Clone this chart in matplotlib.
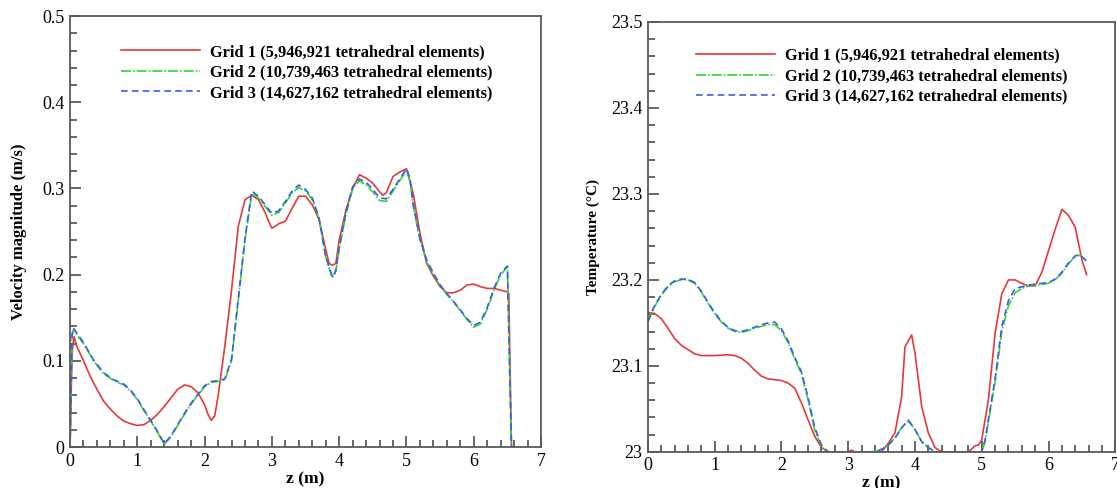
import matplotlib.pyplot as plt
from matplotlib.ticker import MultipleLocator

plt.rcParams['font.family'] = ['Liberation Serif', 'DejaVu Serif']

# ---------------- Velocity magnitude data ----------------
v_z1 = [0.0, 0.03, 0.06, 0.1, 0.2, 0.3, 0.4, 0.5, 0.6, 0.7, 0.8, 0.9, 1.0, 1.1, 1.2, 1.3, 1.4,
        1.5, 1.6, 1.7, 1.8, 1.9, 2.0, 2.05, 2.1, 2.15, 2.2, 2.3, 2.4, 2.5, 2.6, 2.7, 2.8,
        2.9, 2.95, 3.0, 3.05, 3.1, 3.2, 3.3, 3.4, 3.5, 3.6, 3.7, 3.8, 3.85, 3.9, 3.95,
        4.0, 4.1, 4.2, 4.3, 4.4, 4.5, 4.6, 4.65, 4.7, 4.8, 4.9, 5.0, 5.1, 5.2, 5.3, 5.4,
        5.5, 5.6, 5.7, 5.8, 5.9, 6.0, 6.1, 6.2, 6.3, 6.4, 6.5, 6.52, 6.56]
v_grid1 = [0.0, 0.11, 0.128, 0.117, 0.1, 0.082, 0.067, 0.053, 0.044, 0.036, 0.030, 0.027,
           0.025, 0.026, 0.031, 0.038, 0.047, 0.057, 0.067, 0.072, 0.070, 0.063, 0.049,
           0.038, 0.031, 0.036, 0.059, 0.117, 0.182, 0.256, 0.287, 0.292, 0.287, 0.272,
           0.262, 0.254, 0.256, 0.259, 0.262, 0.277, 0.291, 0.291, 0.281, 0.264, 0.229,
           0.213, 0.211, 0.213, 0.240, 0.275, 0.300, 0.316, 0.312, 0.306, 0.296, 0.292,
           0.295, 0.314, 0.319, 0.323, 0.294, 0.248, 0.213, 0.198, 0.186, 0.179, 0.179,
           0.182, 0.188, 0.189, 0.186, 0.184, 0.184, 0.182, 0.180, 0.178, 0.0]

v_z23 = [0.0, 0.03, 0.05, 0.2, 0.35, 0.5, 0.65, 0.8, 0.9, 1.0, 1.1, 1.2, 1.3, 1.4, 1.5, 1.6,
         1.7, 1.8, 1.9, 2.0, 2.1, 2.2, 2.3, 2.4, 2.5, 2.6, 2.7, 2.8, 2.9, 3.0, 3.1, 3.2,
         3.3, 3.4, 3.5, 3.6, 3.7, 3.8, 3.9, 3.95, 4.0, 4.1, 4.2, 4.3, 4.4, 4.5, 4.6, 4.7,
         4.8, 4.9, 5.0, 5.05, 5.1, 5.2, 5.3, 5.4, 5.5, 5.6, 5.7, 5.8, 5.9, 6.0, 6.1, 6.2,
         6.3, 6.4, 6.5, 6.53, 6.56]
v_grid2 = [0.0, 0.13, 0.136, 0.12, 0.1, 0.085, 0.077, 0.072, 0.065, 0.055, 0.042, 0.03,
           0.017, 0.003, 0.012, 0.025, 0.038, 0.05, 0.06, 0.07, 0.075, 0.076, 0.078, 0.1,
           0.17, 0.24, 0.294, 0.289, 0.279, 0.269, 0.272, 0.283, 0.295, 0.301, 0.297,
           0.287, 0.265, 0.22, 0.196, 0.204, 0.23, 0.27, 0.3, 0.309, 0.304, 0.296, 0.286,
           0.285, 0.297, 0.309, 0.321, 0.31, 0.28, 0.24, 0.215, 0.2, 0.187, 0.177, 0.168,
           0.158, 0.148, 0.139, 0.143, 0.16, 0.182, 0.2, 0.209, 0.1, 0.0]
v_grid3 = [0.0, 0.13, 0.138, 0.121, 0.101, 0.086, 0.078, 0.073, 0.066, 0.056, 0.043, 0.031,
           0.018, 0.004, 0.013, 0.026, 0.039, 0.051, 0.061, 0.071, 0.076, 0.077, 0.079, 0.102,
           0.172, 0.242, 0.297, 0.291, 0.281, 0.271, 0.274, 0.285, 0.297, 0.304, 0.299,
           0.289, 0.266, 0.221, 0.197, 0.205, 0.232, 0.272, 0.302, 0.311, 0.307, 0.299, 0.289,
           0.288, 0.299, 0.311, 0.323, 0.312, 0.282, 0.242, 0.217, 0.202, 0.188, 0.178, 0.169,
           0.159, 0.149, 0.141, 0.145, 0.162, 0.184, 0.202, 0.210, 0.1, 0.0]

# ---------------- Temperature data ----------------
t_z1 = [0.0, 0.1, 0.2, 0.3, 0.4, 0.5, 0.6, 0.7, 0.8, 1.0, 1.2, 1.3, 1.4, 1.5, 1.6, 1.7, 1.8,
        2.0, 2.1, 2.2, 2.3, 2.4, 2.5, 2.6, 2.7, 3.0, 3.05, 3.1, 3.5, 3.6, 3.7, 3.8, 3.85,
        3.95, 4.0, 4.1, 4.2, 4.3, 4.4, 4.8, 4.9, 4.95, 5.0, 5.1, 5.2, 5.3, 5.4, 5.5, 5.6,
        5.7, 5.8, 5.9, 6.0, 6.1, 6.2, 6.3, 6.4, 6.5, 6.55, 6.57]
t_grid1 = [23.162, 23.161, 23.155, 23.144, 23.132, 23.124, 23.119, 23.114, 23.112, 23.112,
           23.113, 23.112, 23.109, 23.103, 23.095, 23.088, 23.085, 23.083, 23.080, 23.074,
           23.057, 23.037, 23.018, 23.005, 23.0, 23.0, 23.002, 23.0, 23.0, 23.01, 23.022,
           23.064, 23.122, 23.136, 23.115, 23.053, 23.022, 23.005, 23.0, 23.0, 23.007,
           23.008, 23.014, 23.061, 23.138, 23.184, 23.200, 23.200, 23.196, 23.193, 23.193,
           23.209, 23.234, 23.259, 23.282, 23.275, 23.261, 23.223, 23.211, 23.206]

t_z23 = [0.0, 0.1, 0.2, 0.3, 0.4, 0.5, 0.6, 0.7, 0.8, 0.9, 1.0, 1.1, 1.2, 1.3, 1.4, 1.5, 1.6,
         1.7, 1.8, 1.9, 2.0, 2.1, 2.2, 2.3, 2.4, 2.5, 2.6, 2.7, 3.4, 3.5, 3.6, 3.7, 3.8, 3.9,
         4.0, 4.1, 4.2, 4.3, 5.0, 5.05, 5.1, 5.2, 5.3, 5.4, 5.5, 5.6, 5.7, 5.8, 5.9, 6.0,
         6.1, 6.2, 6.3, 6.4, 6.45, 6.5, 6.57]
t_grid2 = [23.151, 23.169, 23.182, 23.192, 23.198, 23.200, 23.200, 23.196, 23.186, 23.173,
           23.161, 23.151, 23.144, 23.140, 23.139, 23.141, 23.144, 23.146, 23.148, 23.148,
           23.141, 23.127, 23.108, 23.091, 23.060, 23.025, 23.006, 23.0, 23.0, 23.003,
           23.008, 23.016, 23.028, 23.036, 23.026, 23.012, 23.005, 23.0, 23.0, 23.012,
           23.035, 23.082, 23.140, 23.170, 23.185, 23.190, 23.193, 23.194, 23.195, 23.196,
           23.200, 23.208, 23.219, 23.227, 23.229, 23.227, 23.222]
t_grid3 = [23.152, 23.170, 23.183, 23.193, 23.199, 23.201, 23.201, 23.197, 23.187, 23.174,
           23.162, 23.152, 23.145, 23.141, 23.140, 23.142, 23.145, 23.148, 23.150, 23.151,
           23.143, 23.129, 23.110, 23.093, 23.063, 23.028, 23.008, 23.0, 23.0, 23.003,
           23.008, 23.016, 23.028, 23.037, 23.026, 23.012, 23.005, 23.0, 23.0, 23.014,
           23.038, 23.085, 23.146, 23.176, 23.190, 23.192, 23.194, 23.195, 23.196, 23.197,
           23.201, 23.209, 23.220, 23.228, 23.229, 23.227, 23.222]

labels = ["Grid 1 (5,946,921 tetrahedral elements)",
          "Grid 2 (10,739,463 tetrahedral elements)",
          "Grid 3 (14,627,162 tetrahedral elements)"]

red = "#e8383a"
green = "#2ed82e"
blue = "#3a5cf0"
spine_col = "#5a5a5a"

fig = plt.figure(figsize=(11.17, 4.88), dpi=100)
ax1 = fig.add_axes([0.0627, 0.084, 0.4217, 0.883])
ax2 = fig.add_axes([0.580, 0.074, 0.4185, 0.881])


def style_axes(ax, ylo, yhi, ylabel, ysize, ypad):
    ax.set_xlim(0, 7)
    ax.set_ylim(ylo, yhi)
    ax.xaxis.set_major_locator(MultipleLocator(1))
    ax.xaxis.set_minor_locator(MultipleLocator(0.2))
    ax.yaxis.set_major_locator(MultipleLocator(0.1))
    ax.yaxis.set_minor_locator(MultipleLocator(0.02))
    ax.tick_params(which="both", direction="in", top=False, right=False,
                   color=spine_col, width=1.3, labelsize=13, pad=4)
    ax.tick_params(which="major", length=8)
    ax.tick_params(which="minor", length=5)
    for sp in ax.spines.values():
        sp.set_color(spine_col)
        sp.set_linewidth(1.3)
    ax.set_xlabel("z (m)", fontsize=12.5, fontweight="bold", labelpad=1)
    ax.set_ylabel(ylabel, fontsize=ysize, fontweight="bold", labelpad=ypad)


ax1.plot(v_z1, v_grid1, color=red, lw=1.2, label=labels[0])
ax1.plot(v_z23, v_grid2, color=green, lw=1.2, linestyle=(0, (6, 1.2, 1, 1.2)), label=labels[1])
ax1.plot(v_z23, v_grid3, color=blue, lw=1.2, linestyle=(0, (4, 2.5)), label=labels[2])
style_axes(ax1, 0, 0.5, "Velocity magnitude (m/s)", 12, 11)
ax1.yaxis.set_major_formatter(plt.FuncFormatter(lambda v, p: "0" if abs(v) < 1e-9 else f"{v:.1f}"))

ax2.plot(t_z1, t_grid1, color=red, lw=1.2, label=labels[0])
ax2.plot(t_z23, t_grid2, color=green, lw=1.2, linestyle=(0, (6, 1.2, 1, 1.2)), label=labels[1])
ax2.plot(t_z23, t_grid3, color=blue, lw=1.2, linestyle=(0, (4, 2.5)), label=labels[2])
style_axes(ax2, 23.0, 23.5, "Temperature (\u00b0C)", 11, 8)
ax2.yaxis.set_major_formatter(plt.FuncFormatter(lambda v, p: "23" if abs(v - 23) < 1e-9 else f"{v:.1f}"))

for ax, anchor in [(ax1, (0.095, 0.95)), (ax2, (0.09, 0.955))]:
    ax.legend(loc="upper left", bbox_to_anchor=anchor, frameon=False,
              prop={"family": "Liberation Serif", "weight": "bold", "size": 11.8},
              handlelength=4.8, handletextpad=0.6, labelspacing=0.27, borderaxespad=0)

plt.savefig("out.png", dpi=100)
